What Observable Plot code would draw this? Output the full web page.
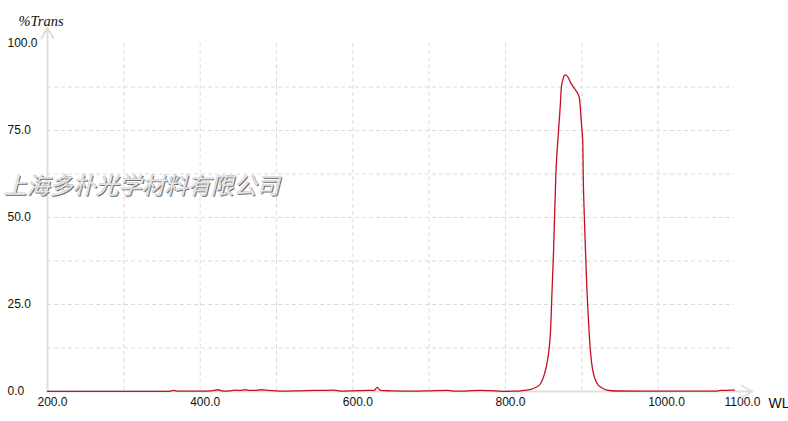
<!DOCTYPE html>
<html><head><meta charset="utf-8">
<script src="https://cdn.jsdelivr.net/npm/d3@7"></script>
<script src="https://cdn.jsdelivr.net/npm/@observablehq/plot@0.6"></script>
<style>body{margin:0;background:#fff}#chart{width:788px;height:421px}</style>
</head><body><div id="chart"></div>
<script>
const wavelength = [200, 300, 360, 365, 372, 381, 400, 415, 423, 430, 440, 446, 452, 459, 465, 472, 479, 490, 505, 531, 550, 575, 585, 600, 620, 628, 632, 636, 650, 680, 700, 724, 735, 767, 787, 800, 810, 820, 833, 840, 846, 851, 855, 859, 861, 863, 866, 869.5, 872, 873, 875, 877, 879, 882, 885, 888, 892, 895, 897, 899.5, 901.3, 901.8, 903, 904.8, 906.5, 907.8, 910.5, 913.6, 916, 920, 925, 933, 945, 1000, 1050, 1075, 1082, 1090, 1100];
const transmission = [0.05, 0.05, 0.05, 0.3, 0.1, 0.1, 0.1, 0.2, 0.5, 0.1, 0.2, 0.4, 0.3, 0.5, 0.3, 0.3, 0.5, 0.3, 0.1, 0.2, 0.3, 0.4, 0.1, 0.2, 0.3, 0.3, 1.2, 0.3, 0.2, 0.1, 0.2, 0.3, 0.1, 0.3, 0.2, 0.05, 0.1, 0.2, 0.6, 1.2, 2.3, 5, 8.9, 17.5, 29, 40.5, 62.6, 75, 83, 87, 89.5, 90.8, 91, 90.3, 88.9, 87.8, 86.5, 85.5, 84.1, 77, 71.3, 62.6, 52, 40.5, 30, 24.2, 13.8, 7, 4.5, 2.3, 1.2, 0.4, 0.15, 0.1, 0.1, 0.1, 0.3, 0.35, 0.4];
const xTicks = [200, 400, 600, 800, 1000, 1100];
const yTicks = [0, 25, 50, 75, 100];
const xGrid = [300, 400, 500, 600, 700, 800, 900, 1000];
const yGrid = [12.5, 25, 37.5, 50, 62.5, 75, 87.5];
const yLabel = "%Trans";
const xLabel = "WL";
const watermark = "上海多朴光学材料有限公司";
const axisArrows = [
  {x1: 200, y1: 0, x2: 1123, y2: 0},
  {x1: 200, y1: 0, x2: 200, y2: 104.5}
];

const data = wavelength.map((w, i) => ({w, t: transmission[i]}));
const fmt = d => d.toFixed(1);

const chart = Plot.plot({
  width: 788, height: 421,
  marginLeft: 47, marginRight: 54, marginTop: 43, marginBottom: 30,
  style: {fontFamily: "'Liberation Sans', Arial, sans-serif", fontSize: "12px", background: "#fff", color: "#111", overflow: "visible"},
  x: {domain: [200, 1100]},
  y: {domain: [0, 100]},
  marks: [
    Plot.gridY(yGrid, {stroke: "#dcdcdc", strokeOpacity: 1, strokeDasharray: "4,3"}),
    Plot.gridX(xGrid, {stroke: "#dcdcdc", strokeOpacity: 1, strokeDasharray: "4,3"}),
    Plot.axisY(yTicks, {tickSize: 0, tickPadding: 0, textAnchor: "start", dx: -40, tickFormat: fmt, label: null, fill: "#111"}),
    Plot.axisX(xTicks, {tickSize: 0, tickPadding: 3, textAnchor: "start", dx: -10, dy: 3, tickFormat: fmt, label: null, fill: "#111"}),
    Plot.arrow(axisArrows, {x1: "x1", y1: "y1", x2: "x2", y2: "y2", stroke: "#dedede", strokeWidth: 2, headLength: 9}),
    Plot.line(data, {x: "w", y: "t", stroke: "#c41020", strokeWidth: 1.3, curve: "monotone-x"}),
    Plot.text([watermark], {frameAnchor: "top-left", textAnchor: "start", dx: -43, dy: 135, fontSize: 23, fontStyle: "italic", fontFamily: "'Noto Sans CJK SC', sans-serif", fill: "#6a6a6a"}),
    Plot.text([watermark], {frameAnchor: "top-left", textAnchor: "start", dx: -44, dy: 134, fontSize: 23, fontStyle: "italic", fontFamily: "'Noto Sans CJK SC', sans-serif", fill: "#e4e4e4", stroke: "#9a9a9a", strokeWidth: 0.4}),
    Plot.text([yLabel], {frameAnchor: "top-left", textAnchor: "start", dx: -29, dy: -28, fontSize: 14.5, fontStyle: "italic", fontFamily: "'Liberation Serif', 'Times New Roman', serif", fill: "#111"}),
    Plot.text([xLabel], {frameAnchor: "bottom-right", textAnchor: "start", dx: 34, dy: 16, fontSize: 14, fill: "#111"})
  ]
});
document.getElementById("chart").appendChild(chart);
</script>
</body></html>
